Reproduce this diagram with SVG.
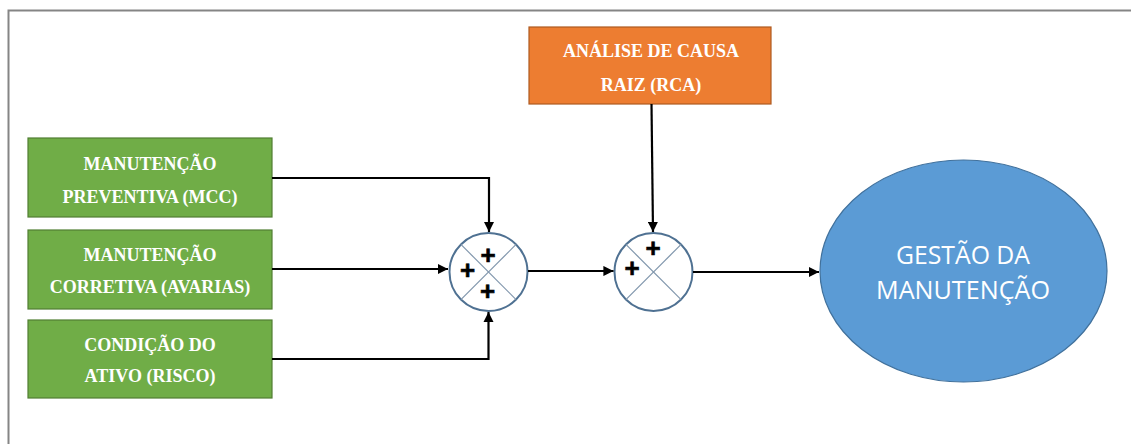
<svg xmlns="http://www.w3.org/2000/svg" width="1131" height="444" viewBox="0 0 1131 444">
<style>
.box-g{fill:#70AD47;stroke:#507E32;stroke-width:1.2}
.box-o{fill:#ED7D31;stroke:#AE5A21;stroke-width:1.2}
.lbl{font-family:"Liberation Serif","Times New Roman",serif;font-weight:bold;font-size:18px;fill:#ffffff;text-anchor:middle}
.sum{fill:#ffffff;stroke:#4F7192;stroke-width:2}
.x{stroke:#8096AC;stroke-width:1.2}
.plus{font-family:"Liberation Sans",Arial,sans-serif;font-weight:bold;font-size:26px;fill:#000;stroke:#000;stroke-width:0.6;text-anchor:middle}
.conn{fill:none;stroke:#000;stroke-width:2.2}
.big{font-family:"Open Sans","Liberation Sans",sans-serif;font-size:25px;fill:#ffffff;text-anchor:middle}
</style>
<defs>
<marker id="arr" viewBox="0 0 10 10" refX="10" refY="5" markerWidth="4.6" markerHeight="4.6" orient="auto" markerUnits="strokeWidth">
<path d="M0,0 L10,5 L0,10 z" fill="#000"/>
</marker>
</defs>
<rect width="1131" height="444" fill="#ffffff"/>
<g id="frame">
<path d="M8.5,444 V10.5 H1131" fill="none" stroke="#858585" stroke-width="2"/>
</g>
<g id="n-preventiva">
<rect class="box-g" x="28" y="138" width="244" height="79"/>
<text class="lbl" x="150" y="170">MANUTENÇÃO</text>
<text class="lbl" x="150" y="203">PREVENTIVA (MCC)</text>
</g>
<g id="n-corretiva">
<rect class="box-g" x="28" y="230" width="244" height="79"/>
<text class="lbl" x="150" y="261">MANUTENÇÃO</text>
<text class="lbl" x="150" y="293">CORRETIVA (AVARIAS)</text>
</g>
<g id="n-condicao">
<rect class="box-g" x="28" y="320" width="244" height="78"/>
<text class="lbl" x="150" y="351">CONDIÇÃO DO</text>
<text class="lbl" x="150" y="382">ATIVO (RISCO)</text>
</g>
<g id="n-rca">
<rect class="box-o" x="529" y="27" width="242" height="77"/>
<text class="lbl" x="651" y="57">ANÁLISE DE CAUSA</text>
<text class="lbl" x="651" y="91">RAIZ (RCA)</text>
</g>
<g id="n-sum1">
<circle class="sum" cx="488.5" cy="272" r="39"/>
<line class="x" x1="460.9" y1="244.4" x2="516.1" y2="299.6"/>
<line class="x" x1="516.1" y1="244.4" x2="460.9" y2="299.6"/>
<text class="plus" x="488" y="264">+</text>
<text class="plus" x="467.5" y="279">+</text>
<text class="plus" x="487.5" y="300">+</text>
</g>
<g id="n-sum2">
<circle class="sum" cx="653.5" cy="272" r="39"/>
<line class="x" x1="625.9" y1="244.4" x2="681.1" y2="299.6"/>
<line class="x" x1="681.1" y1="244.4" x2="625.9" y2="299.6"/>
<text class="plus" x="653" y="257">+</text>
<text class="plus" x="632" y="277">+</text>
</g>
<g id="n-gestao">
<ellipse cx="963.5" cy="271" rx="143.5" ry="111" fill="#5B9BD5" stroke="#41719C" stroke-width="1.2"/>
<text class="big" x="963" y="264" textLength="134" lengthAdjust="spacingAndGlyphs">GESTÃO DA</text>
<text class="big" x="963" y="299" textLength="174" lengthAdjust="spacingAndGlyphs">MANUTENÇÃO</text>
</g>
<g id="connectors">
<path class="conn" d="M272,178 H489 V232" marker-end="url(#arr)"/>
<path class="conn" d="M272,269 H448" marker-end="url(#arr)"/>
<path class="conn" d="M272,359 H488.5 V312" marker-end="url(#arr)"/>
<path class="conn" d="M528,271 H613.5" marker-end="url(#arr)"/>
<path class="conn" d="M651.5,104 L653,232" marker-end="url(#arr)"/>
<path class="conn" d="M693,272 H819" marker-end="url(#arr)"/>
</g>
</svg>
